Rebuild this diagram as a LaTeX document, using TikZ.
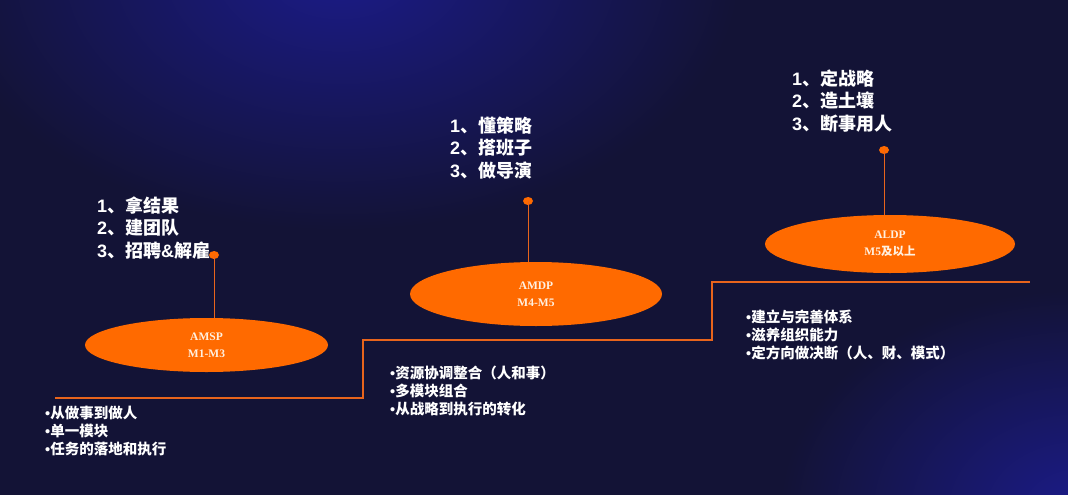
\documentclass[tikz,border=0pt]{standalone}
\usepackage{fontspec}
\setmainfont{Liberation Sans}
\newfontfamily\cjk{Noto Sans CJK SC}
\newfontfamily\lserif{Liberation Serif}
\usetikzlibrary{shapes.geometric}
\definecolor{bgbase}{HTML}{131336}
\definecolor{glow}{HTML}{1B1B88}
\definecolor{orangefill}{HTML}{FF6A00}
\definecolor{orangeline}{HTML}{E8641C}
\definecolor{labeltext}{HTML}{FFF0E0}
\newcommand{\bul}{{\normalfont\bfseries •}}
\newcommand{\nm}[1]{{\normalfont\bfseries #1}}
\begin{document}
\begin{tikzpicture}[x=1pt,y=-1pt,
  stage/.style={ellipse, fill=orangefill, inner sep=0pt, align=center, text=labeltext,
    font=\lserif\bfseries\fontsize{11.5}{17}\selectfont},
  pin/.style={ellipse, fill=orangefill, inner sep=0pt, minimum width=10pt, minimum height=8pt},
  heading/.style={anchor=west, align=left, text=white, inner sep=0pt,
    font=\cjk\bfseries\fontsize{18}{22.5}\selectfont},
  bullets/.style={anchor=west, align=left, text=white, inner sep=0pt,
    font=\cjk\bfseries\fontsize{14.5}{18}\selectfont},
  stepline/.style={draw=orangeline, line width=1.3pt},
  stem/.style={draw=orangeline, line width=1pt}]
% background
\fill[bgbase] (0,0) rectangle (1068,495);
\begin{scope}
  \clip (0,0) rectangle (1068,495);
  \shade[inner color=glow, outer color=bgbase] (340,-30) ellipse [x radius=400, y radius=260];
  \shade[inner color=glow, outer color=bgbase] (1080,510) ellipse [x radius=300, y radius=220];
\end{scope}
\useasboundingbox (0,0) rectangle (1068,495);

% staircase line
\coordinate (s0) at (55,398);
\coordinate (s1) at (363,398);
\coordinate (s2) at (363,340);
\coordinate (s3) at (712,340);
\coordinate (s4) at (712,282);
\coordinate (s5) at (1030,282);
\draw[stepline] (s0) -- (s1) -- (s2) -- (s3) -- (s4) -- (s5);

% stages
\node[stage, minimum width=243pt, minimum height=54pt] (amsp) at (206.5,345) {AMSP\\M1-M3};
\node[stage, minimum width=252pt, minimum height=64pt] (amdp) at (536,294) {AMDP\\M4-M5};
\node[stage, minimum width=250pt, minimum height=58pt] (aldp) at (890,244) {ALDP\\M5{\cjk 及以上}};

% pins
\node[pin] (pinA) at (214,255) {};
\node[pin] (pinB) at (528,201) {};
\node[pin] (pinC) at (884,150) {};
\draw[stem] (pinA.center) -- (pinA.center |- amsp.north);
\draw[stem] (pinB.center) -- (pinB.center |- amdp.north);
\draw[stem] (pinC.center) -- (pinC.center |- aldp.north);

% headings
\node[heading] (hA) at (97,228) {\nm{1}、拿结果\\\nm{2}、建团队\\\nm{3}、招聘\nm{\&}解雇};
\node[heading] (hB) at (450,148) {\nm{1}、懂策略\\\nm{2}、搭班子\\\nm{3}、做导演};
\node[heading] (hC) at (792,101) {\nm{1}、定战略\\\nm{2}、造土壤\\\nm{3}、断事用人};

% bullet lists
\node[bullets] (bA) at (45,431) {\bul 从做事到做人\\\bul 单一模块\\\bul 任务的落地和执行};
\node[bullets] (bB) at (390,391) {\bul 资源协调整合（人和事）\\\bul 多模块组合\\\bul 从战略到执行的转化};
\node[bullets] (bC) at (746,335) {\bul 建立与完善体系\\\bul 滋养组织能力\\\bul 定方向做决断（人、财、模式）};
\end{tikzpicture}
\end{document}
